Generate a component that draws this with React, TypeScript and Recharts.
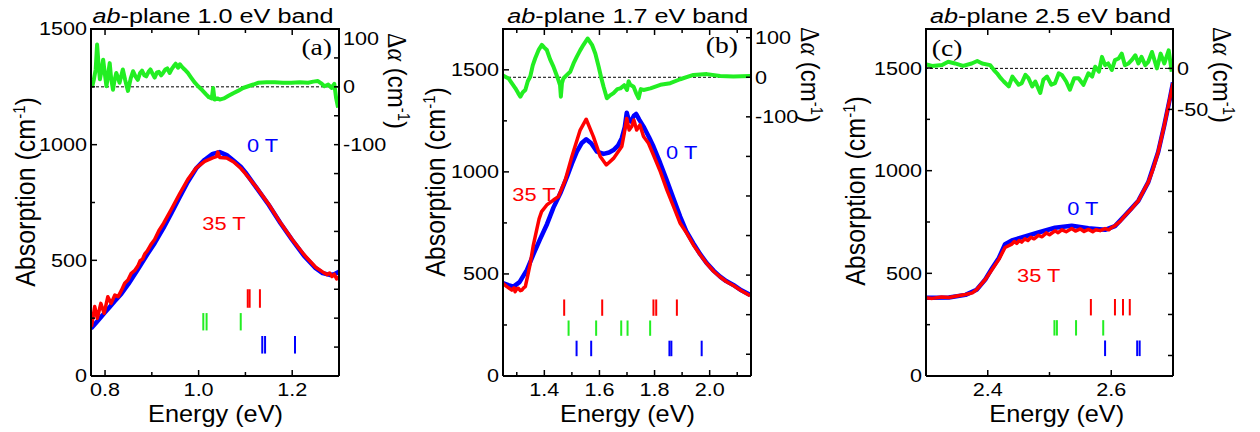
import React from "react";
import { ComposedChart, Line, ReferenceLine, XAxis, YAxis } from "recharts";

const SANS = "'Liberation Sans', Arial, Helvetica, sans-serif";
const SERIF = "'Liberation Serif', 'Times New Roman', serif";
const BLUE = "#0000ff";
const RED = "#ff0000";
const GREEN = "#22ee22";

// ---------- (a) ab-plane 1.0 eV band ----------
const aE0T = [0.77, 0.78, 0.79, 0.8, 0.81, 0.82, 0.835, 0.85, 0.87, 0.89, 0.906, 0.925, 0.942, 0.96, 0.977, 0.995, 1.013, 1.03, 1.045, 1.06, 1.075, 1.09, 1.1, 1.125, 1.15, 1.175, 1.2, 1.225, 1.25, 1.265, 1.28, 1.29, 1.3];
const aAbs0T = [205, 228, 252, 275, 298, 322, 356, 398, 460, 525, 574, 640, 705, 775, 840, 898, 935, 960, 968, 955, 930, 905, 880, 810, 739, 660, 588, 520, 466, 445, 437, 440, 451];
const aE35T = [0.771, 0.778, 0.7835, 0.791, 0.798, 0.806, 0.813, 0.821, 0.828, 0.835, 0.842, 0.849, 0.856, 0.863, 0.87, 0.875, 0.88, 0.885, 0.89, 0.898, 0.906, 0.915, 0.925, 0.942, 0.96, 0.977, 0.995, 1.013, 1.03, 1.038, 1.041, 1.045, 1.06, 1.075, 1.09, 1.1, 1.125, 1.15, 1.175, 1.2, 1.225, 1.25, 1.265, 1.275, 1.28, 1.285, 1.29, 1.295, 1.3];
const aAbs35T = [213, 300, 249, 314, 271, 343, 314, 350, 343, 370, 401, 415, 444, 455, 475, 498, 505, 528, 540, 568, 590, 628, 660, 722, 790, 850, 900, 928, 943, 948, 968, 945, 942, 925, 898, 875, 812, 742, 662, 590, 525, 470, 450, 438, 445, 430, 440, 420, 428];
const aDiffE = [0.769, 0.773, 0.776, 0.78, 0.783, 0.786, 0.789, 0.793, 0.796, 0.8, 0.803, 0.806, 0.81, 0.813, 0.817, 0.82, 0.824, 0.828, 0.831, 0.835, 0.838, 0.843, 0.849, 0.855, 0.86, 0.865, 0.87, 0.875, 0.879, 0.884, 0.888, 0.893, 0.897, 0.902, 0.906, 0.911, 0.915, 0.92, 0.924, 0.929, 0.933, 0.938, 0.942, 0.947, 0.951, 0.956, 0.96, 0.965, 0.97, 0.977, 0.984, 0.991, 0.999, 1.008, 1.016, 1.022, 1.028, 1.031, 1.034, 1.04, 1.045, 1.054, 1.063, 1.074, 1.084, 1.095, 1.106, 1.117, 1.127, 1.145, 1.163, 1.18, 1.198, 1.216, 1.234, 1.245, 1.255, 1.262, 1.269, 1.277, 1.284, 1.29, 1.294, 1.298];
const aDiff = [7, 2, 12, 30, 73, 40, 13, 30, 47, 20, 1, 18, 41, 15, -5, 10, 24, 15, 7, 20, 30, 12, -7, 15, 27, 18, 12, 24, 28, 20, 18, 26, 30, 22, 16, 25, 26, 20, 24, 30, 32, 24, 30, 36, 40, 33, 39, 34, 30, 24, 16, 8, 1, -6, -13, -18, -20, -2, -22, -20, -22, -20, -16, -11, -7, -2, 1, 4, 7, 8, 8, 7, 7, 8, 7, 9, 10, 6, 1, 4, -2, 5, -20, -36];
const aRedMarks = [1.105, 1.109, 1.131];
const aGreenMarks = [1.01, 1.017, 1.09];
const aBlueMarks = [1.136, 1.142, 1.206];
const aXTicks = [0.8, 0.9, 1.0, 1.1, 1.2];
const aXLabels = ["0.8", "", "1.0", "", "1.2"];
const aRTicks = [100, 50, 0, -50, -100, -150, -200, -250, -300, -350, -400, -450];
const aRLabels = ["100", "", "0", "", "-100", "", "", "", "", "", "", ""];

// ---------- (b) ab-plane 1.7 eV band ----------
const bE0T = [1.246, 1.27, 1.288, 1.31, 1.337, 1.361, 1.385, 1.41, 1.433, 1.458, 1.482, 1.5, 1.518, 1.535, 1.552, 1.57, 1.591, 1.615, 1.635, 1.651, 1.668, 1.681, 1.692, 1.699, 1.706, 1.714, 1.725, 1.733, 1.745, 1.76, 1.78, 1.796, 1.82, 1.844, 1.87, 1.893, 1.915, 1.941, 1.965, 1.99, 2.015, 2.038, 2.06, 2.086, 2.115, 2.147];
const bAbs0T = [457, 445, 438, 460, 520, 598, 672, 745, 825, 895, 975, 1040, 1099, 1140, 1160, 1140, 1099, 1088, 1095, 1107, 1130, 1165, 1220, 1290, 1255, 1247, 1275, 1284, 1255, 1222, 1170, 1124, 1045, 960, 865, 781, 710, 650, 598, 552, 515, 487, 465, 446, 420, 397];
const bE35T = [1.246, 1.264, 1.282, 1.29, 1.294, 1.3, 1.306, 1.313, 1.319, 1.325, 1.331, 1.339, 1.349, 1.36, 1.372, 1.381, 1.39, 1.409, 1.433, 1.451, 1.476, 1.5, 1.53, 1.552, 1.578, 1.603, 1.625, 1.651, 1.681, 1.69, 1.699, 1.708, 1.717, 1.725, 1.735, 1.747, 1.76, 1.778, 1.796, 1.821, 1.845, 1.869, 1.893, 1.917, 1.941, 1.965, 1.99, 2.015, 2.038, 2.06, 2.086, 2.115, 2.147];
const bAbs35T = [457, 438, 421, 432, 413, 428, 430, 418, 421, 432, 438, 487, 552, 640, 715, 770, 805, 838, 862, 879, 960, 1075, 1205, 1258, 1173, 1075, 1034, 1066, 1124, 1189, 1262, 1205, 1222, 1254, 1205, 1230, 1173, 1140, 1083, 1001, 911, 830, 748, 699, 642, 595, 550, 512, 485, 463, 443, 418, 393];
const bDiffE = [1.246, 1.27, 1.285, 1.295, 1.305, 1.313, 1.322, 1.331, 1.34, 1.349, 1.358, 1.367, 1.38, 1.391, 1.4, 1.409, 1.421, 1.433, 1.442, 1.451, 1.457, 1.46, 1.464, 1.469, 1.482, 1.494, 1.506, 1.518, 1.53, 1.542, 1.557, 1.573, 1.585, 1.597, 1.606, 1.615, 1.627, 1.64, 1.651, 1.665, 1.676, 1.69, 1.7, 1.706, 1.712, 1.724, 1.733, 1.742, 1.75, 1.76, 1.785, 1.821, 1.857, 1.893, 1.941, 1.99, 2.038, 2.086, 2.147];
const bDiff = [6, -3, -18, -28, -40, -49, -38, -32, -10, 2, 30, 48, 70, 82, 75, 69, 45, 27, 10, -7, -20, -49, -15, -3, 6, 14, 35, 52, 68, 82, 98, 82, 60, 27, 0, -24, -53, -45, -40, -30, -28, -20, -32, -10, -19, -24, -40, -53, -30, -32, -28, -19, -15, -5, 6, 8, 3, 2, 3];
const bRedMarks = [1.472, 1.61, 1.796, 1.806, 1.881];
const bGreenMarks = [1.488, 1.588, 1.679, 1.702, 1.784];
const bBlueMarks = [1.517, 1.57, 1.854, 1.861, 1.971];
const bXTicks = [1.3, 1.4, 1.5, 1.6, 1.7, 1.8, 1.9, 2.0, 2.1];
const bXLabels = ["", "1.4", "", "1.6", "", "1.8", "", "2.0", ""];
const bRTicks = [100, 0, -100, -200, -300, -400, -500, -600, -700];
const bRLabels = ["100", "0", "-100", "", "", "", "", "", ""];

// ---------- (c) ab-plane 2.5 eV band ----------
const cE0T = [2.299, 2.337, 2.364, 2.382, 2.396, 2.407, 2.418, 2.428, 2.439, 2.455, 2.482, 2.509, 2.536, 2.563, 2.59, 2.606, 2.622, 2.644, 2.66, 2.676, 2.686, 2.695, 2.7];
const cAbs0T = [381, 382, 395, 420, 470, 525, 575, 642, 660, 675, 699, 722, 732, 720, 712, 730, 781, 854, 944, 1091, 1222, 1352, 1430];
const cE35T = [2.299, 2.31, 2.325, 2.337, 2.35, 2.364, 2.375, 2.382, 2.396, 2.407, 2.418, 2.428, 2.439, 2.443, 2.447, 2.451, 2.455, 2.46, 2.465, 2.47, 2.475, 2.482, 2.488, 2.495, 2.5, 2.509, 2.514, 2.52, 2.527, 2.536, 2.542, 2.55, 2.556, 2.563, 2.57, 2.575, 2.582, 2.59, 2.596, 2.6, 2.606, 2.615, 2.622, 2.633, 2.644, 2.652, 2.66, 2.668, 2.676, 2.686, 2.695, 2.7];
const cAbs35T = [381, 378, 385, 382, 390, 397, 405, 421, 470, 519, 568, 626, 642, 655, 646, 660, 652, 668, 660, 676, 668, 685, 678, 697, 688, 707, 698, 712, 703, 718, 706, 716, 704, 714, 703, 712, 708, 718, 712, 722, 732, 755, 781, 815, 854, 900, 944, 1010, 1091, 1222, 1352, 1426];
const cDiffE = [2.299, 2.31, 2.326, 2.336, 2.347, 2.36, 2.374, 2.383, 2.391, 2.404, 2.41, 2.415, 2.421, 2.426, 2.434, 2.44, 2.444, 2.45, 2.455, 2.461, 2.466, 2.472, 2.477, 2.485, 2.49, 2.496, 2.503, 2.509, 2.515, 2.52, 2.527, 2.533, 2.54, 2.547, 2.555, 2.563, 2.569, 2.574, 2.58, 2.585, 2.59, 2.595, 2.601, 2.606, 2.612, 2.617, 2.622, 2.628, 2.633, 2.639, 2.644, 2.649, 2.655, 2.66, 2.666, 2.674, 2.68, 2.686, 2.693, 2.698];
const cDiff = [5, 3, 4, 8, 6, 3, 6, 9, 6, 4, -2, -6, -12, -16, -22, -10, -14, -20, -18, -8, -12, -22, -16, -30, -14, -10, -20, -18, -6, -8, -16, -26, -12, -12, -20, -6, -10, 2, -4, 14, 4, 6, -2, 10, 12, 18, 4, 6, 10, 16, 6, 14, 4, 8, 20, 0, 18, 6, 22, -4];
const cRedMarks = [2.567, 2.606, 2.619, 2.63];
const cGreenMarks = [2.508, 2.512, 2.543, 2.587];
const cBlueMarks = [2.59, 2.642, 2.646, 2.7];
const cXTicks = [2.4, 2.5, 2.6];
const cXLabels = ["2.4", "", "2.6"];
const cRTicks = [0, -50, -100, -150, -200, -250, -300, -350];
const cRLabels = ["0", "-50", "", "", "", "", "", ""];

// absorption ticks (shared by all panels)
const absTicks = [0, 250, 500, 750, 1000, 1250, 1500];
const absLabels = ["0", "", "500", "", "1000", "", "1500"];

// vertical extent of the transition bars (absorption units)
const redSpan: [number, number] = [295, 375];
const greenSpan: [number, number] = [197, 272];
const blueSpan: [number, number] = [97, 173];

type Row = { e: number; v: number };
const rows = (xs: number[], ys: number[]): Row[] => xs.map((e, i) => ({ e, v: ys[i] }));

const STRETCH = 1.2;
const L_GAP = 4;
const R_GAP = 4;
const B_GAP = 7;
const PLOT_TOP = 29;

function TickLabel({ x, y, anchor, dy, children }: any) {
  return (
    <text
      transform={`translate(${x},${y}) scale(${STRETCH},1)`}
      textAnchor={anchor}
      dy={dy}
      fontSize={18}
      fontFamily={SANS}
      fill="#000"
    >
      {children}
    </text>
  );
}

const labelOf = (ticks: number[], labels: string[], v: number) => {
  const i = ticks.findIndex((t) => Math.abs(t - v) < 1e-9);
  return i < 0 ? "" : labels[i];
};

const leftTick = (ticks: number[], labels: string[]) => (p: any) => {
  const lab = labelOf(ticks, labels, p.payload.value);
  const ax = p.x + L_GAP;
  return (
    <g>
      <line x1={ax} x2={ax + (lab ? 6 : 4)} y1={p.y} y2={p.y} stroke="#000" strokeWidth={1.5} />
      {lab && <TickLabel x={p.x} y={p.y} anchor="end" dy="0.36em">{lab}</TickLabel>}
    </g>
  );
};

const rightTick = (ticks: number[], labels: string[], top: number, nudge: number) => (p: any) => {
  const lab = labelOf(ticks, labels, p.payload.value);
  const ax = p.x - R_GAP;
  const shift = Math.abs(p.payload.value - top) < 1e-9 ? nudge : 0;
  return (
    <g>
      <line x1={ax} x2={ax - 5} y1={p.y} y2={p.y} stroke="#000" strokeWidth={1.5} />
      {lab && <TickLabel x={p.x} y={p.y + shift} anchor="start" dy="0.36em">{lab}</TickLabel>}
    </g>
  );
};

// bottom axis: inward tick, label below; a mirrored inward tick on the top frame edge
const bottomTick = (ticks: number[], labels: string[]) => (p: any) => {
  const lab = labelOf(ticks, labels, p.payload.value);
  const ay = p.y - B_GAP;
  const len = lab ? 6 : 4;
  return (
    <g>
      <line x1={p.x} x2={p.x} y1={ay} y2={ay - len} stroke="#000" strokeWidth={1.5} />
      <line x1={p.x} x2={p.x} y1={PLOT_TOP} y2={PLOT_TOP + len} stroke="#000" strokeWidth={1.5} />
      {lab && <TickLabel x={p.x} y={p.y} anchor="middle" dy="0.72em">{lab}</TickLabel>}
    </g>
  );
};

type PanelProps = {
  left: number;
  leftW: number;
  rightW: number;
  xDomain: [number, number];
  xTicks: number[];
  xLabels: string[];
  yDomain: [number, number];
  rDomain: [number, number];
  rTicks: number[];
  rLabels: string[];
  rNudge: number;
  blue: Row[];
  red: Row[];
  diff: Row[];
  redMarks: number[];
  greenMarks: number[];
  blueMarks: number[];
  children: React.ReactNode;
};

const axisLine = { stroke: "#000", strokeWidth: 2 };
const W = 420;
const H = 432;

function Panel(pp: PanelProps) {
  const marks = [
    ...pp.blueMarks.map((e) => ({ e, span: blueSpan, c: BLUE })),
    ...pp.greenMarks.map((e) => ({ e, span: greenSpan, c: GREEN })),
    ...pp.redMarks.map((e) => ({ e, span: redSpan, c: RED })),
  ];
  return (
    <div style={{ position: "absolute", left: pp.left, top: 0, width: W, height: H }}>
      <ComposedChart width={W} height={H} margin={{ top: PLOT_TOP, right: 0, bottom: 0, left: 0 }}>
        <XAxis
          xAxisId="b"
          type="number"
          dataKey="e"
          domain={pp.xDomain}
          ticks={pp.xTicks}
          interval={0}
          allowDataOverflow
          tick={bottomTick(pp.xTicks, pp.xLabels)}
          tickSize={0}
          tickMargin={B_GAP}
          tickLine={false}
          axisLine={axisLine}
          height={H - 376}
        />
        <YAxis
          yAxisId="l"
          type="number"
          domain={pp.yDomain}
          ticks={absTicks}
          interval={0}
          allowDataOverflow
          tick={leftTick(absTicks, absLabels)}
          tickSize={0}
          tickMargin={L_GAP}
          tickLine={false}
          axisLine={axisLine}
          width={pp.leftW}
        />
        <YAxis
          yAxisId="r"
          orientation="right"
          type="number"
          domain={pp.rDomain}
          ticks={pp.rTicks}
          interval={0}
          allowDataOverflow
          tick={rightTick(pp.rTicks, pp.rLabels, pp.rDomain[1], pp.rNudge)}
          tickSize={0}
          tickMargin={R_GAP}
          tickLine={false}
          axisLine={axisLine}
          width={pp.rightW}
        />
        <ReferenceLine xAxisId="b" yAxisId="r" y={0} stroke="#000" strokeWidth={1} strokeDasharray="3 2" />
        {marks.map((m, i) => (
          <ReferenceLine
            key={i}
            xAxisId="b"
            yAxisId="l"
            segment={[
              { x: m.e, y: m.span[0] },
              { x: m.e, y: m.span[1] },
            ]}
            stroke={m.c}
            strokeWidth={2}
          />
        ))}
        <Line xAxisId="b" yAxisId="r" data={pp.diff} dataKey="v" type="linear" stroke={GREEN} strokeWidth={4} dot={false} isAnimationActive={false} strokeLinejoin="round" />
        <Line xAxisId="b" yAxisId="l" data={pp.blue} dataKey="v" type="linear" stroke={BLUE} strokeWidth={4.5} dot={false} isAnimationActive={false} strokeLinejoin="round" />
        <Line xAxisId="b" yAxisId="l" data={pp.red} dataKey="v" type="linear" stroke={RED} strokeWidth={3.5} dot={false} isAnimationActive={false} strokeLinejoin="round" />
      </ComposedChart>
      <svg width={W} height={H} style={{ position: "absolute", left: 0, top: 0, pointerEvents: "none" }}>
        {/* top edge of the frame */}
        <rect x={pp.leftW - 1} y={PLOT_TOP - 1} width={W - pp.leftW - pp.rightW + 2} height={2} fill="#000" />
        {pp.children}
      </svg>
    </div>
  );
}

function Title({ x, band }: { x: number; band: string }) {
  return (
    <text transform={`translate(${x},22.5) scale(${STRETCH},1)`} textAnchor="middle" fontSize={21} fontFamily={SANS} fill="#000">
      <tspan fontStyle="italic">ab</tspan>-plane {band} eV band
    </text>
  );
}

function Letter({ x, y, anchor, text }: { x: number; y: number; anchor: string; text: string }) {
  return (
    <text transform={`translate(${x},${y}) scale(${STRETCH},1)`} textAnchor={anchor} fontSize={23} fontFamily={SERIF} fill="#000">
      {text}
    </text>
  );
}

function AbsLabel({ x, y }: { x: number; y: number }) {
  return (
    <text transform={`translate(${x},${y}) scale(1.1,1) rotate(-90)`} textAnchor="middle" fontSize={25} fontFamily={SANS} fill="#000">
      Absorption (cm
      <tspan dy={-9} fontSize={15}>-1</tspan>
      <tspan dy={9}>)</tspan>
    </text>
  );
}

function DiffLabel({ x, y }: { x: number; y: number }) {
  return (
    <text transform={`translate(${x},${y}) scale(1.1,1) rotate(90)`} textAnchor="start" fontSize={24} fontFamily={SANS} fill="#000">
      <tspan fontFamily={SERIF}>Δ</tspan>
      <tspan fontFamily={SERIF} fontStyle="italic">α</tspan> (cm
      <tspan dy={-9} fontSize={15}>-1</tspan>
      <tspan dy={9}>)</tspan>
    </text>
  );
}

function EnergyLabel({ x }: { x: number }) {
  return (
    <text transform={`translate(${x},421.5) scale(1.1,1)`} textAnchor="middle" fontSize={23} fontFamily={SANS} fill="#000">
      Energy (eV)
    </text>
  );
}

function Field({ x, y, color, text }: { x: number; y: number; color: string; text: string }) {
  return (
    <text transform={`translate(${x},${y}) scale(1.15,1)`} textAnchor="middle" fontSize={19} fontFamily={SANS} fill={color}>
      {text}
    </text>
  );
}

export default function App() {
  return (
    <div style={{ position: "absolute", left: 0, top: 0, width: 1260, height: 432, background: "#fff", overflow: "hidden" }}>
      <Panel
        left={0}
        leftW={91}
        rightW={81}
        xDomain={[0.77, 1.3]}
        xTicks={aXTicks}
        xLabels={aXLabels}
        yDomain={[0, 1500]}
        rDomain={[-500, 100]}
        rTicks={aRTicks}
        rLabels={aRLabels}
        rNudge={10}
        blue={rows(aE0T, aAbs0T)}
        red={rows(aE35T, aAbs35T)}
        diff={rows(aDiffE, aDiff)}
        redMarks={aRedMarks}
        greenMarks={aGreenMarks}
        blueMarks={aBlueMarks}
      >
        <Title x={213} band="1.0" />
        <Letter x={332} y={55} anchor="end" text="(a)" />
        <AbsLabel x={35} y={192} />
        <DiffLabel x={388} y={33} />
        <EnergyLabel x={215.5} />
        <Field x={262.5} y={152} color={BLUE} text="0 T" />
        <Field x={224} y={230} color={RED} text="35 T" />
      </Panel>
      <Panel
        left={420}
        leftW={83}
        rightW={89}
        xDomain={[1.25, 2.15]}
        xTicks={bXTicks}
        xLabels={bXLabels}
        yDomain={[0, 1700]}
        rDomain={[-755, 122]}
        rTicks={bRTicks}
        rLabels={bRLabels}
        rNudge={0}
        blue={rows(bE0T, bAbs0T)}
        red={rows(bE35T, bAbs35T)}
        diff={rows(bDiffE, bDiff)}
        redMarks={bRedMarks}
        greenMarks={bGreenMarks}
        blueMarks={bBlueMarks}
      >
        <Title x={207.8} band="1.7" />
        <Letter x={318} y={53} anchor="end" text="(b)" />
        <AbsLabel x={25} y={182} />
        <DiffLabel x={381} y={27} />
        <EnergyLabel x={207.5} />
        <Field x={261.7} y={159} color={BLUE} text="0 T" />
        <Field x={114} y={200.5} color={RED} text="35 T" />
      </Panel>
      <Panel
        left={840}
        leftW={86}
        rightW={87}
        xDomain={[2.3, 2.7]}
        xTicks={cXTicks}
        xLabels={cXLabels}
        yDomain={[0, 1690]}
        rDomain={[-375, 48]}
        rTicks={cRTicks}
        rLabels={cRLabels}
        rNudge={0}
        blue={rows(cE0T, cAbs0T)}
        red={rows(cE35T, cAbs35T)}
        diff={rows(cDiffE, cDiff)}
        redMarks={cRedMarks}
        greenMarks={cGreenMarks}
        blueMarks={cBlueMarks}
      >
        <Title x={210.5} band="2.5" />
        <Letter x={91.7} y={56} anchor="start" text="(c)" />
        <AbsLabel x={25} y={191} />
        <DiffLabel x={373} y={27} />
        <EnergyLabel x={216.7} />
        <Field x={242.8} y={215} color={BLUE} text="0 T" />
        <Field x={198.7} y={281.7} color={RED} text="35 T" />
      </Panel>
    </div>
  );
}
